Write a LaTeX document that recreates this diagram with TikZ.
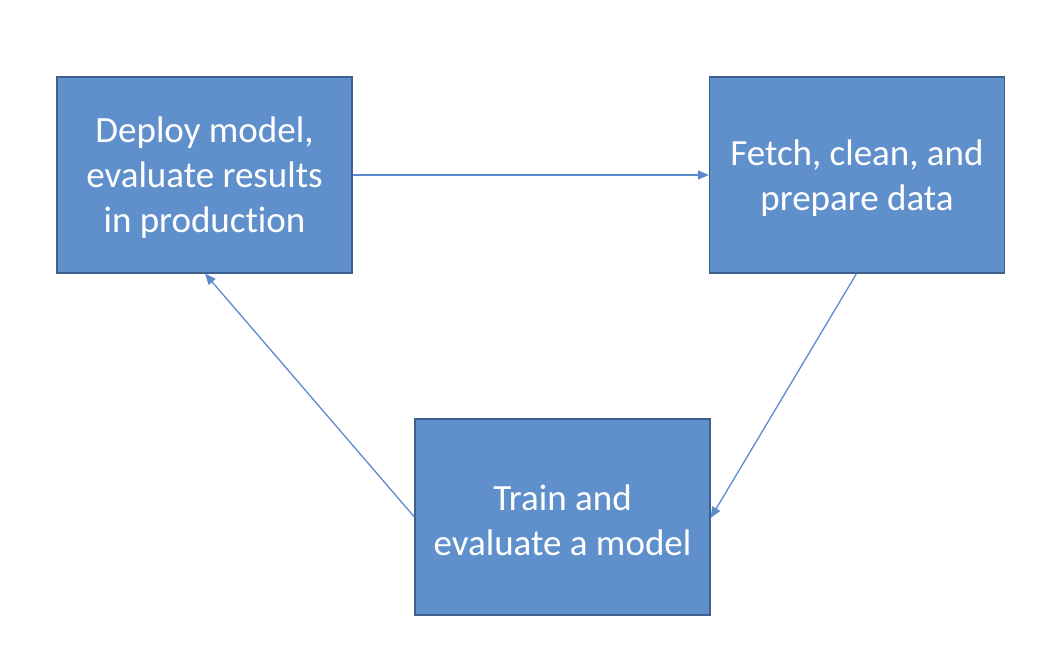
\documentclass[tikz,border=0pt]{standalone}
\usepackage{fontspec}
\setmainfont[Ligatures=NoCommon]{Carlito}
\usetikzlibrary{arrows.meta}
\definecolor{boxfill}{RGB}{96,144,204}
\definecolor{boxline}{RGB}{62,96,142}
\definecolor{arrowc}{RGB}{90,140,205}
\begin{document}
\begin{tikzpicture}[x=1pt,y=-1pt,
  stagebox/.style={draw=boxline,line width=1.2pt,fill=boxfill,minimum width=295pt,minimum height=196pt,
    text=white,align=center,font=\fontsize{37}{45}\selectfont,inner sep=0pt},
  flow/.style={draw=arrowc,line width=1.3pt,-{Triangle[length=11pt,width=9pt]}}]
\useasboundingbox (0,0) rectangle (1038,650);
\node[stagebox] (deploy) at (204.5,175) {\strut Deploy model,\\evaluate results\\in production};
\node[stagebox] (fetch) at (857,175) {\strut Fetch, clean, and\\prepare data};
\node[stagebox] (train) at (562.5,517) {\strut Train and\\evaluate a model};
\draw[flow] (deploy.east) -- (fetch.west);
\draw[flow] ([xshift=-0.5pt]fetch.south) -- ([yshift=-1pt]train.east);
\draw[flow] (train.west) -- ([xshift=0.5pt]deploy.south);
\end{tikzpicture}
\end{document}
